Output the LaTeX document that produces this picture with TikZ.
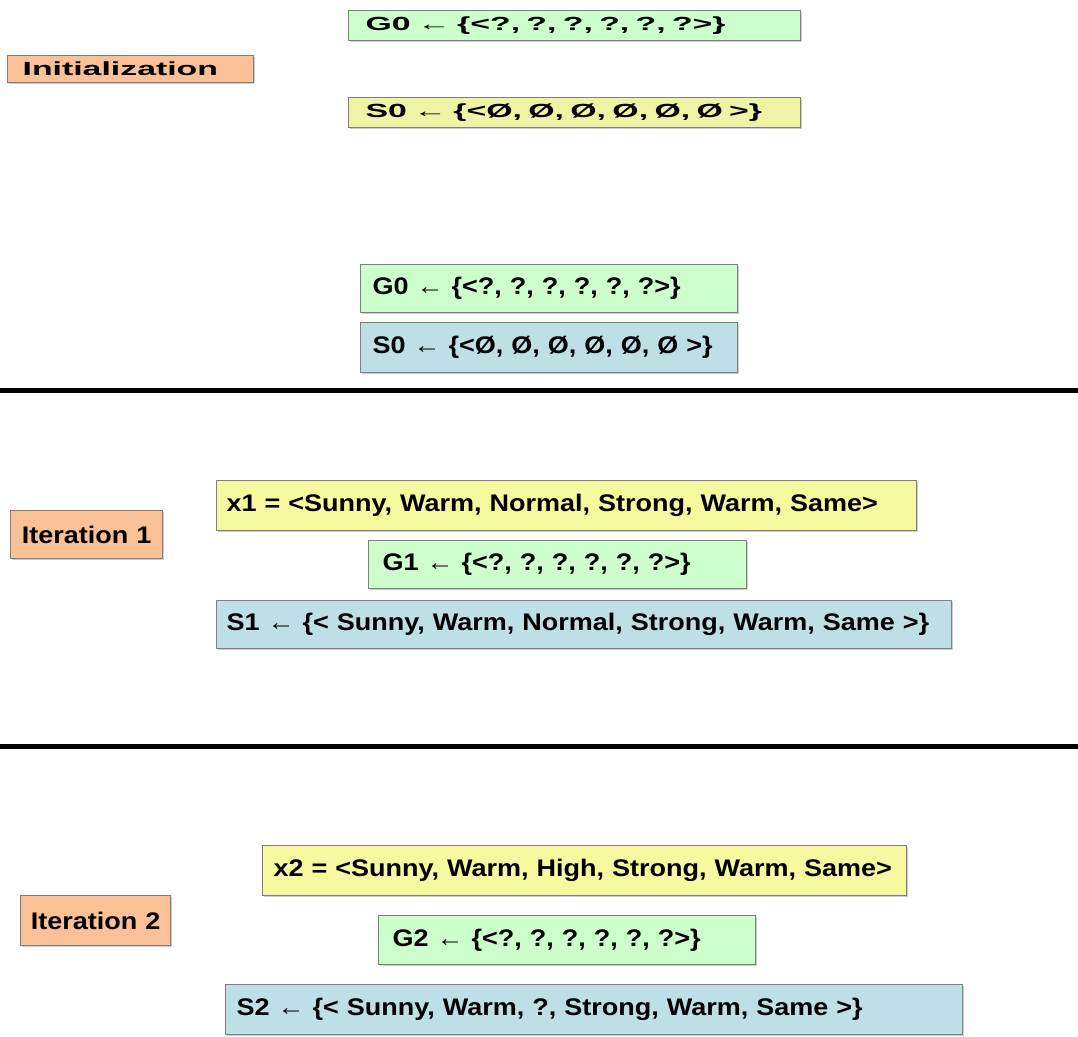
\documentclass[tikz,border=0pt]{standalone}
\usepackage{fontspec}
\setmainfont{Liberation Sans}
\newfontfamily\topfont[FakeStretch=1.78]{Liberation Sans}
\newfontfamily\lowfont[FakeStretch=1.125]{Liberation Sans}
\usetikzlibrary{shadows}
\definecolor{gfill}{HTML}{CCFFCC}
\definecolor{yfill}{HTML}{F7F9A0}
\definecolor{ytop}{HTML}{EEF4A4}
\definecolor{bfill}{HTML}{BEDFE6}
\definecolor{ofill}{HTML}{FAC196}
\definecolor{bord}{HTML}{7F7F7F}
\tikzset{
  box/.style={draw=bord, line width=1.2pt, anchor=north west, inner ysep=0pt,
    align=left, drop shadow={shadow xshift=1.5pt, shadow yshift=-1.5pt, fill=black, opacity=0.2}},
  topbox/.style={box, font=\topfont\bfseries\fontsize{19}{21}\selectfont},
  lowbox/.style={box, font=\lowfont\bfseries\fontsize{24}{26}\selectfont},
  sep/.style={line width=5pt}
}
\begin{document}
\begin{tikzpicture}[x=1pt,y=-1pt]
\useasboundingbox[fill=white] (0,0) rectangle (1078,1036);
% Initialization
\node[topbox, fill=ofill, minimum width=246, minimum height=27, inner xsep=15, text width=216] (init) at (7,55) {Initialization};
\node[topbox, fill=gfill, minimum width=452, minimum height=30, inner xsep=17, text width=418] (g0a) at (348,10) {G0 ← \{<?, ?, ?, ?, ?, ?>\}};
\node[topbox, fill=ytop, minimum width=452, minimum height=30, inner xsep=17, text width=418] (s0a) at (348,97) {S0 ← \{<Ø, Ø, Ø, Ø, Ø, Ø >\}};
\node[lowbox, fill=gfill, minimum width=377, minimum height=48, inner xsep=12, text width=353] (g0b) at (360,264) {G0 ← \{<?, ?, ?, ?, ?, ?>\}};
\node[lowbox, fill=bfill, minimum width=377, minimum height=50, inner xsep=12, text width=353] (s0b) at (360,322) {S0 ← \{<Ø, Ø, Ø, Ø, Ø, Ø >\}};
% separator 1
\coordinate (l1a) at (0,390);
\coordinate (l1b) at (1078,390);
\draw[sep] (l1a) -- (l1b);
% Iteration 1
\node[lowbox, fill=ofill, minimum width=152, minimum height=48, inner xsep=4, text width=144, align=center] (it1) at (10,510) {Iteration 1};
\node[lowbox, fill=yfill, minimum width=700, minimum height=50, inner xsep=10, text width=680] (x1) at (216,480) {x1 = <Sunny, Warm, Normal, Strong, Warm, Same>};
\node[lowbox, fill=gfill, minimum width=378, minimum height=48, inner xsep=14, text width=350] (g1) at (368,540) {G1 ← \{<?, ?, ?, ?, ?, ?>\}};
\node[lowbox, fill=bfill, minimum width=735, minimum height=48, inner xsep=10, text width=715] (s1) at (216,600) {S1 ← \{< Sunny, Warm, Normal, Strong, Warm, Same >\}};
% separator 2
\coordinate (l2a) at (0,746);
\coordinate (l2b) at (1078,746);
\draw[sep] (l2a) -- (l2b);
% Iteration 2
\node[lowbox, fill=ofill, minimum width=150, minimum height=50, inner xsep=4, text width=142, align=center] (it2) at (20,895) {Iteration 2};
\node[lowbox, fill=yfill, minimum width=644, minimum height=50, inner xsep=11, text width=622] (x2) at (262,845) {x2 = <Sunny, Warm, High, Strong, Warm, Same>};
\node[lowbox, fill=gfill, minimum width=377, minimum height=49, inner xsep=14, text width=349] (g2) at (378,915) {G2 ← \{<?, ?, ?, ?, ?, ?>\}};
\node[lowbox, fill=bfill, minimum width=737, minimum height=50, inner xsep=11, text width=715] (s2) at (225,984) {S2 ← \{< Sunny, Warm, ?, Strong, Warm, Same >\}};
\end{tikzpicture}
\end{document}
